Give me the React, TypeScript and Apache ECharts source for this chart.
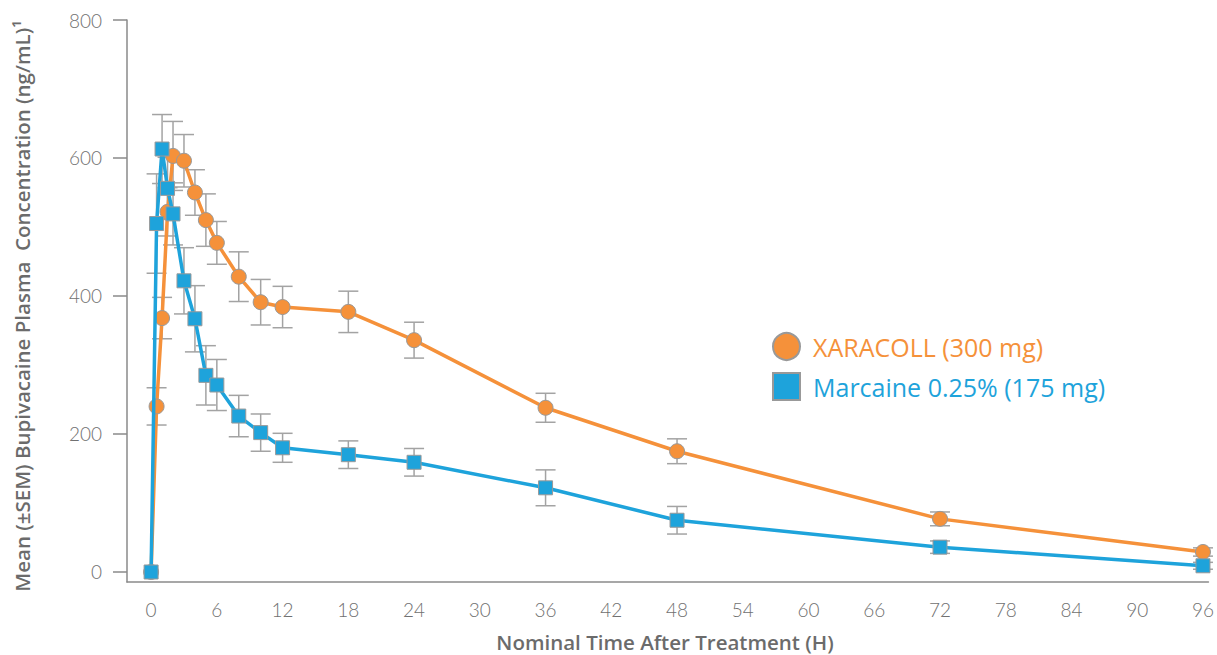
import React, { useEffect, useRef } from "react";
import * as echarts from "echarts";

const hours = [0, 0.5, 1, 1.5, 2, 3, 4, 5, 6, 8, 10, 12, 18, 24, 36, 48, 72, 96];
const xaracollMean = [0, 240, 368, 522, 603, 596, 550, 510, 477, 428, 391, 384, 377, 336, 238, 175, 77, 29];
const xaracollSem = [0, 27, 30, 35, 50, 38, 33, 38, 31, 36, 33, 30, 30, 26, 21, 18, 10, 6];
const marcaineMean = [0, 505, 613, 556, 519, 422, 367, 285, 271, 226, 202, 180, 170, 159, 122, 75, 36, 9];
const marcaineSem = [0, 72, 50, 45, 45, 48, 48, 43, 37, 30, 27, 21, 20, 20, 26, 20, 9, 5];
const xTicks = [0, 6, 12, 18, 24, 30, 36, 42, 48, 54, 60, 66, 72, 78, 84, 90, 96];
const yTicks = [0, 200, 400, 600, 800];

const ORANGE = "#F5913A";
const BLUE = "#1EA3DB";
const XNAME = "XARACOLL (300 mg)";
const MNAME = "Marcaine 0.25% (175 mg)";

function errData(mean: number[], sem: number[]) {
  return hours
    .map((h, i) => [h, mean[i] - sem[i], mean[i] + sem[i]])
    .filter((d, i) => sem[i] > 0);
}

function renderErr(params: any, api: any) {
  const x = api.value(0);
  const top = api.coord([x, api.value(2)]);
  const bot = api.coord([x, api.value(1)]);
  const hw = 10;
  const st = { stroke: "#a3a3a3", lineWidth: 1.5 };
  return {
    type: "group",
    children: [
      { type: "line", shape: { x1: top[0], y1: top[1], x2: bot[0], y2: bot[1] }, style: st },
      { type: "line", shape: { x1: top[0] - hw, y1: top[1], x2: top[0] + hw, y2: top[1] }, style: st },
      { type: "line", shape: { x1: bot[0] - hw, y1: bot[1], x2: bot[0] + hw, y2: bot[1] }, style: st },
    ],
  };
}

export default function App() {
  const ref = useRef<HTMLDivElement>(null);
  useEffect(() => {
    document.body.style.margin = "0";
    const chart = echarts.init(ref.current!, undefined, { renderer: "svg" });
    const font = "Lato, 'Open Sans', sans-serif";
    const titleFont = "600 20.5px 'Open Sans', Lato, sans-serif";
    chart.setOption({
      animation: false,
      grid: { left: 127, right: 6.5, top: 20, bottom: 73, containLabel: false },
      legend: {
        orient: "vertical",
        left: 767,
        top: 327,
        itemWidth: 27,
        itemHeight: 27,
        itemGap: 11,
        selectedMode: false,
        textStyle: { fontFamily: "'Open Sans', Lato, sans-serif", fontSize: 25, padding: [0, 0, 0, 8] },
        data: [
          { name: XNAME, icon: "circle", textStyle: { color: ORANGE } },
          { name: MNAME, icon: "rect", textStyle: { color: BLUE } },
        ],
      },
      xAxis: {
        type: "value",
        min: -2.2,
        max: 96.5,
        splitLine: { show: false },
        axisTick: { show: false },
        axisLine: { show: true, onZero: false, lineStyle: { color: "#8a8a8a", width: 1.5 } },
        axisLabel: {
          customValues: xTicks,
          margin: 18,
          color: "#707070",
          fontFamily: font,
          fontWeight: 300,
          fontSize: 19,
        },
      },
      yAxis: {
        type: "value",
        min: -14.5,
        max: 800,
        splitLine: { show: false },
        axisLine: { show: true, onZero: false, lineStyle: { color: "#8a8a8a", width: 1.5 } },
        axisTick: {
          show: true,
          customValues: yTicks,
          length: 14,
          lineStyle: { color: "#8a8a8a", width: 1.5 },
        },
        axisLabel: {
          customValues: yTicks,
          margin: 25,
          color: "#707070",
          fontFamily: font,
          fontWeight: 300,
          fontSize: 19,
        },
      },
      graphic: [
        {
          type: "text",
          x: 22,
          y: 306,
          rotation: Math.PI / 2,
          style: {
            text: "Mean (±SEM) Bupivacaine Plasma  Concentration (ng/mL)¹",
            align: "center",
            verticalAlign: "middle",
            fill: "#6b6b6b",
            font: titleFont,
          },
        },
        {
          type: "text",
          x: 665,
          y: 642,
          style: {
            text: "Nominal Time After Treatment (H)",
            align: "center",
            verticalAlign: "middle",
            fill: "#6b6b6b",
            font: titleFont,
          },
        },
      ],
      series: [
        {
          name: "xaracollErr",
          type: "custom",
          renderItem: renderErr,
          data: errData(xaracollMean, xaracollSem),
          encode: { x: 0, y: [1, 2] },
          z: 1,
          silent: true,
        },
        {
          name: "marcaineErr",
          type: "custom",
          renderItem: renderErr,
          data: errData(marcaineMean, marcaineSem),
          encode: { x: 0, y: [1, 2] },
          z: 1,
          silent: true,
        },
        {
          name: XNAME,
          type: "line",
          z: 3,
          symbol: "circle",
          symbolSize: 15,
          data: hours.map((h, i) => [h, xaracollMean[i]]),
          lineStyle: { color: ORANGE, width: 3.5 },
          itemStyle: { color: ORANGE, borderColor: "#999", borderWidth: 1 },
        },
        {
          name: MNAME,
          type: "line",
          z: 4,
          symbol: "rect",
          symbolSize: 14,
          data: hours.map((h, i) => [h, marcaineMean[i]]),
          lineStyle: { color: BLUE, width: 3.5 },
          itemStyle: { color: BLUE, borderColor: "#999", borderWidth: 1 },
        },
      ],
    });
    return () => chart.dispose();
  }, []);
  return <div ref={ref} style={{ width: 1217, height: 655 }} />;
}
